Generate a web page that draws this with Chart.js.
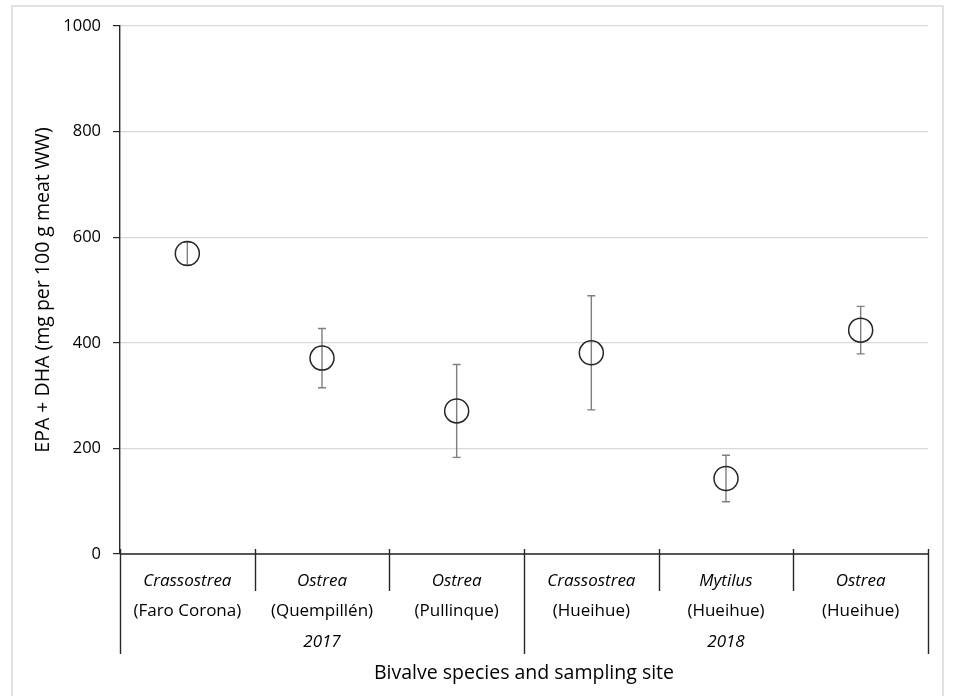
<!DOCTYPE html>
<html>
<head>
<meta charset="utf-8">
<script src="https://cdn.jsdelivr.net/npm/chart.js@4.4.0/dist/chart.umd.min.js"></script>
<style>
  html, body { margin: 0; padding: 0; background: #fff; }
  #wrap { width: 971px; height: 696px; }
</style>
</head>
<body>
<div id="wrap"><canvas id="grafico" width="971" height="696"></canvas></div>
<script>
const especies = ['Crassostrea', 'Ostrea', 'Ostrea', 'Crassostrea', 'Mytilus', 'Ostrea'];
const locais = ['(Faro Corona)', '(Quempillén)', '(Pullinque)', '(Hueihue)', '(Hueihue)', '(Hueihue)'];
const anos = ['2017', '2018'];
const grupos = [3, 3];
const medias = [569, 371, 271, 381, 143, 424];
const desvios = [22, 56, 88, 108, 44, 45];
const yTicks = [0, 200, 400, 600, 800, 1000];

const fonte = '"Open Sans", Lato, sans-serif';
const corTexto = '#000';

// barras de erro, divisorias e rotulos em dois niveis
const extras = {
  id: 'extras',
  beforeDatasetsDraw(chart) {
    const ctx = chart.ctx;
    const x = chart.scales.x;
    const y = chart.scales.y;
    ctx.save();
    ctx.strokeStyle = '#7f7f7f';
    ctx.lineWidth = 1.4;
    medias.forEach((m, i) => {
      const px = x.getPixelForValue(i);
      const top = y.getPixelForValue(m + desvios[i]);
      const bot = y.getPixelForValue(m - desvios[i]);
      ctx.beginPath();
      ctx.moveTo(px, top); ctx.lineTo(px, bot);
      ctx.moveTo(px - 4, top); ctx.lineTo(px + 4, top);
      ctx.moveTo(px - 4, bot); ctx.lineTo(px + 4, bot);
      ctx.stroke();
    });
    ctx.restore();
  },
  afterDraw(chart) {
    const ctx = chart.ctx;
    const x = chart.scales.x;
    const area = chart.chartArea;
    const passo = (area.right - area.left) / especies.length;
    const base = area.bottom;
    ctx.save();

    // moldura
    ctx.strokeStyle = '#d9d9d9';
    ctx.lineWidth = 1.5;
    ctx.beginPath();
    ctx.moveTo(12, 700); ctx.lineTo(12, 6); ctx.lineTo(943, 6); ctx.lineTo(943, 700);
    ctx.stroke();

    // eixo x
    ctx.strokeStyle = '#262626';
    ctx.lineWidth = 1.4;
    ctx.beginPath();
    ctx.moveTo(area.left, base); ctx.lineTo(area.right, base);
    ctx.stroke();

    // divisorias
    const limitesGrupo = [0];
    grupos.forEach(g => limitesGrupo.push(limitesGrupo[limitesGrupo.length - 1] + g));
    for (let i = 0; i <= especies.length; i++) {
      const px = Math.round(area.left + i * passo) + 0.5;
      const longa = limitesGrupo.includes(i);
      ctx.beginPath();
      ctx.moveTo(px, base - 5);
      ctx.lineTo(px, longa ? base + 100 : base + 37);
      ctx.stroke();
    }

    // rotulos
    ctx.fillStyle = corTexto;
    ctx.textAlign = 'center';
    ctx.textBaseline = 'middle';
    especies.forEach((e, i) => {
      const px = x.getPixelForValue(i);
      ctx.font = 'italic 17px ' + fonte;
      ctx.fillText(e, px, base + 27);
      ctx.font = '17px ' + fonte;
      ctx.fillText(locais[i], px, base + 57);
    });
    ctx.font = 'italic 17px ' + fonte;
    anos.forEach((a, g) => {
      const ini = limitesGrupo[g];
      const fim = limitesGrupo[g + 1];
      const px = area.left + (ini + fim) / 2 * passo;
      ctx.fillText(a, px, base + 88);
    });
    ctx.restore();
  }
};

new Chart(document.getElementById('grafico'), {
  type: 'line',
  data: {
    labels: especies.map((e, i) => e + ' ' + locais[i]),
    datasets: [{
      data: medias,
      showLine: false,
      pointStyle: 'circle',
      pointRadius: 12,
      pointHoverRadius: 12,
      pointBorderWidth: 1.5,
      pointBorderColor: '#262626',
      pointBackgroundColor: 'rgba(255,255,255,0)'
    }]
  },
  options: {
    responsive: false,
    animation: false,
    events: [],
    layout: { padding: { top: 26, right: 43, bottom: 0, left: 0 } },
    plugins: { legend: { display: false }, tooltip: { enabled: false } },
    scales: {
      x: {
        type: 'category',
        offset: true,
        grid: { display: false },
        border: { display: false },
        ticks: { display: false },
        title: {
          display: true,
          text: 'Bivalve species and sampling site',
          color: corTexto,
          font: { family: fonte, size: 19.5 },
          padding: { top: 0, bottom: 11 }
        },
        afterFit(s) { s.height = 142; }
      },
      y: {
        min: 0,
        max: 1000,
        afterBuildTicks(s) { s.ticks = yTicks.map(v => ({ value: v })); },
        ticks: {
          color: corTexto,
          font: { family: fonte, size: 16.5 },
          padding: 12,
          callback: v => String(v)
        },
        grid: {
          color: '#d9d9d9',
          lineWidth: 1.2,
          tickColor: '#262626',
          tickLength: 7
        },
        border: { display: true, color: '#262626', width: 1.4 },
        title: {
          display: true,
          text: 'EPA + DHA (mg per 100 g meat WW)',
          color: corTexto,
          font: { family: fonte, size: 19.5 },
          padding: { top: 32, bottom: 0 }
        },
        afterFit(s) { s.width = 120; }
      }
    }
  },
  plugins: [extras]
});
</script>
</body>
</html>
